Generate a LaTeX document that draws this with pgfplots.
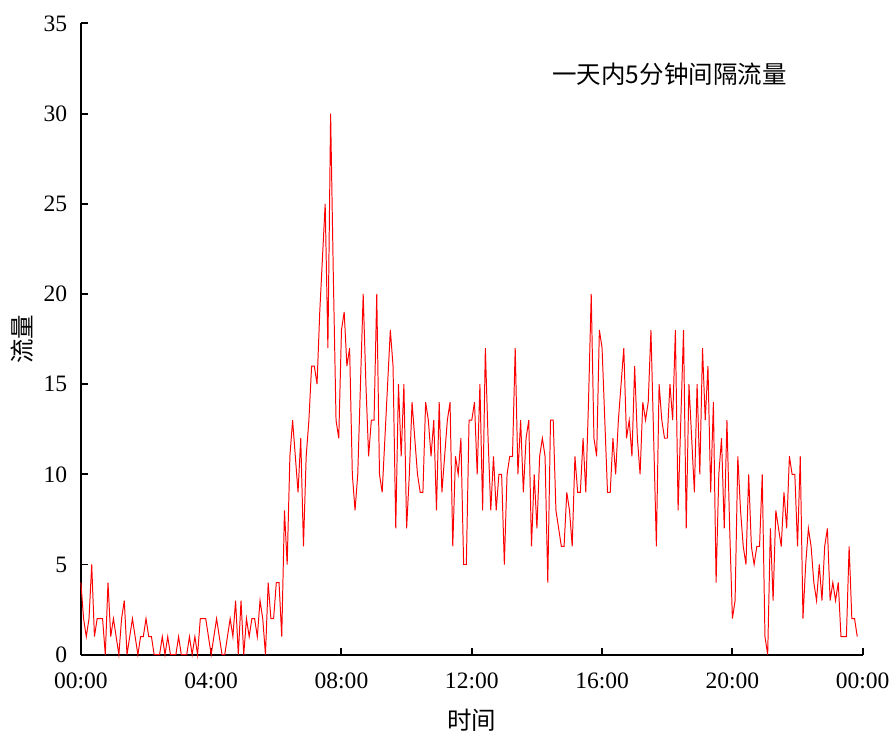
\documentclass[border=0pt]{standalone}
\usepackage{fontspec}
\setmainfont{Liberation Serif}
\newfontfamily\cjk{Noto Sans CJK SC}
\usepackage{pgfplots}
\pgfplotsset{compat=1.18}
\usepackage{pgfplotstable}
\pgfplotstableread[row sep=\\]{
v\\
4\\2\\1\\2\\5\\1\\2\\2\\2\\0\\4\\1\\2\\1\\0\\2\\3\\0\\1\\2\\1\\0\\1\\1\\
2\\1\\1\\0\\0\\0\\1\\0\\1\\0\\0\\0\\1\\0\\0\\0\\1\\0\\1\\0\\2\\2\\2\\1\\
0\\1\\2\\1\\0\\0\\1\\2\\1\\3\\0\\3\\0\\2\\1\\2\\2\\1\\3\\2\\0\\4\\2\\2\\
4\\4\\1\\8\\5\\11\\13\\11\\9\\12\\6\\11\\13\\16\\16\\15\\19\\22\\25\\17\\30\\21\\13\\12\\
18\\19\\16\\17\\10\\8\\10\\15\\20\\15\\11\\13\\13\\20\\10\\9\\12\\15\\18\\16\\7\\15\\11\\15\\
7\\10\\14\\12\\10\\9\\9\\14\\13\\11\\13\\8\\14\\9\\11\\13\\14\\6\\11\\10\\12\\5\\5\\13\\
13\\14\\10\\15\\8\\17\\12\\8\\11\\8\\10\\10\\5\\10\\11\\11\\17\\10\\13\\9\\12\\13\\6\\10\\
7\\11\\12\\11\\4\\13\\13\\8\\7\\6\\6\\9\\8\\6\\11\\9\\9\\12\\9\\14\\20\\12\\11\\18\\
17\\13\\9\\9\\12\\10\\13\\15\\17\\12\\13\\11\\16\\12\\10\\14\\13\\14\\18\\12\\6\\15\\13\\12\\
12\\15\\13\\18\\8\\13\\18\\7\\15\\12\\9\\15\\10\\17\\13\\16\\9\\14\\4\\10\\12\\7\\13\\7\\
2\\3\\11\\8\\6\\5\\10\\6\\5\\6\\6\\10\\1\\0\\7\\3\\8\\7\\6\\9\\7\\11\\10\\10\\
6\\11\\2\\5\\7\\6\\4\\3\\5\\3\\6\\7\\3\\4\\3\\4\\1\\1\\1\\6\\2\\2\\1\\
}\flow
\begin{document}
\begin{tikzpicture}
\begin{axis}[
  scale only axis,
  width=14.02cm, height=11.32cm,
  xmin=0, xmax=24, ymin=0, ymax=35,
  axis lines*=left,
  axis line style={line width=1pt, black},
  xtick={0,4,8,12,16,20,24},
  xticklabels={00:00,04:00,08:00,12:00,16:00,20:00,00:00},
  ytick={0,5,...,35},
  tick style={line width=1pt, black},
  major tick length=0.12cm,
  tick align=inside,
  /pgf/number format/assume math mode=true,
  tick label style={font=\fontsize{12}{14}\selectfont},
  xticklabel style={yshift=-0.2cm},
  yticklabel style={xshift=-0.12cm},
  xlabel={\cjk 时间},
  ylabel={\cjk 流量},
  label style={font=\fontsize{12.5}{14}\selectfont},
  xlabel style={yshift=-0.12cm},
  ylabel style={yshift=-0.05cm},
  clip=false,
]
\addplot[red, line width=0.5pt, mark=none] table[x expr=\coordindex/12, y=v] {\flow};
\node[font=\fontsize{12.5}{14}\selectfont\cjk] at (axis cs:18.07,32.2) {一天内5分钟间隔流量};
\path (rel axis cs:0,1) -- ++(0,0.42cm);
\path (rel axis cs:0,0.5) -- ++(-1.45cm,0);
\end{axis}
\end{tikzpicture}
\end{document}
